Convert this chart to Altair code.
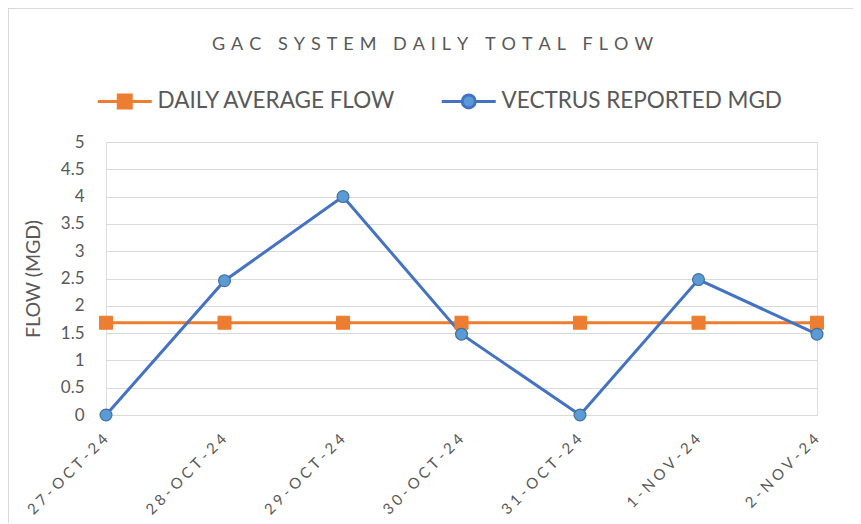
import altair as alt
import pandas as pd

# ---- data ----
dates = ["27-OCT-24", "28-OCT-24", "29-OCT-24", "30-OCT-24", "31-OCT-24", "1-NOV-24", "2-NOV-24"]
daily_average_flow = [1.69, 1.69, 1.69, 1.69, 1.69, 1.69, 1.69]
vectrus_reported = [0.0, 2.46, 4.0, 1.48, 0.0, 2.48, 1.48]
series_names = ["DAILY AVERAGE FLOW", "VECTRUS REPORTED MGD"]
y_ticks = [0, 0.5, 1, 1.5, 2, 2.5, 3, 3.5, 4, 4.5, 5]

rows = []
for i, (d, v) in enumerate(zip(dates, daily_average_flow)):
    rows.append({"date": d, "idx": i, "series": series_names[0], "flow": v})
for i, (d, v) in enumerate(zip(dates, vectrus_reported)):
    rows.append({"date": d, "idx": i, "series": series_names[1], "flow": v})
df = pd.DataFrame(rows)

FONT = "Lato"
TXT = "#595959"
GRID = "#D9D9D9"
ORANGE = "#ED7D31"
BLUE_LINE = "#4472C4"
BLUE_FILL = "#5B9BD5"
BLUE_EDGE = "#41719C"

title_text = "\u2004".join("GAC SYSTEM DAILY TOTAL FLOW")

x_enc = alt.X(
    "date:N",
    sort=dates,
    scale=alt.Scale(type="point", padding=0),
    axis=alt.Axis(
        title=None,
        labelAngle=-45,
        labelExpr="join(split(datum.label, ''), '\u2005')",
        labelFont=FONT,
        labelFontSize=15,
        labelColor=TXT,
        labelPadding=16,
        labelOffset=-6,
        ticks=False,
        domain=True,
        domainColor=GRID,
        domainWidth=1,
        grid=False,
    ),
)
y_enc = alt.Y(
    "flow:Q",
    scale=alt.Scale(domain=[0, 5], nice=False, zero=True),
    axis=alt.Axis(
        title="FLOW (MGD)",
        values=y_ticks,
        format="~g",
        labelFont=FONT,
        labelFontSize=17,
        labelColor=TXT,
        labelPadding=22,
        titleFont=FONT,
        titleFontSize=19.5,
        titleFontWeight="normal",
        titleColor=TXT,
        titleX=-73,
        titleY=136.5,
        titleBaseline="middle",
        ticks=False,
        domain=False,
        grid=True,
        gridColor=GRID,
        gridWidth=1,
    ),
)

stroke_scale = alt.Scale(domain=series_names, range=[ORANGE, BLUE_LINE])
fill_scale = alt.Scale(domain=series_names, range=[ORANGE, BLUE_FILL])
shape_scale = alt.Scale(
    domain=series_names,
    range=[
        "M-4.15,0H-1M1,0H4.15M-1,-1H1V1H-1Z",
        "M-4.15,0H-1M1,0H4.15M1,0A1,1 0 1,1 -1,0A1,1 0 1,1 1,0Z",
    ],
)

base = alt.Chart(df)
avg_data = base.transform_filter(alt.datum.series == series_names[0])
vec_data = base.transform_filter(alt.datum.series == series_names[1])

avg_line = avg_data.mark_line(strokeWidth=3, color=ORANGE).encode(
    x=x_enc, y=y_enc, order=alt.Order("idx:Q")
)
vec_line = vec_data.mark_line(strokeWidth=3, color=BLUE_LINE).encode(
    x=x_enc, y=y_enc, order=alt.Order("idx:Q")
)
squares = avg_data.mark_point(
    shape="square", filled=True, size=170, strokeWidth=1, opacity=1,
    fill=ORANGE, stroke=ORANGE,
).encode(x=x_enc, y=y_enc)
circles = vec_data.mark_point(
    shape="circle", filled=True, size=140, strokeWidth=1.2, opacity=1,
    fill=BLUE_FILL, stroke=BLUE_EDGE,
).encode(x=x_enc, y=y_enc)

legend_cfg = alt.Legend(
    title=None,
    orient="none",
    legendX=7.5,
    legendY=-52,
    direction="horizontal",
    labelFont=FONT,
    labelFontSize=22.5,
    labelColor=TXT,
    labelLimit=500,
    labelOffset=21.5,
    columnPadding=39,
    symbolSize=169,
    symbolStrokeWidth=3,
    symbolOpacity=1,
    padding=0,
)

legend_layer = base.mark_point(opacity=0, filled=True).encode(
    x=x_enc, y=y_enc,
    shape=alt.Shape("series:N", scale=shape_scale, legend=legend_cfg),
    fill=alt.Fill("series:N", scale=fill_scale, legend=legend_cfg),
    stroke=alt.Stroke("series:N", scale=stroke_scale, legend=legend_cfg),
)

frame_df = pd.DataFrame({"k": [0]})
left_border = alt.Chart(frame_df).mark_rule(color=GRID, strokeWidth=1).encode(
    x=alt.value(-97.5), y=alt.value(-134), y2=alt.value(390)
)
top_border = alt.Chart(frame_df).mark_rule(color=GRID, strokeWidth=1).encode(
    x=alt.value(-98), x2=alt.value(760), y=alt.value(-133.5)
)

chart = alt.layer(
    left_border, top_border, avg_line, vec_line, legend_layer, squares, circles
).properties(
    width=711,
    height=273,
    title=alt.TitleParams(
        text=title_text,
        font=FONT,
        fontSize=18,
        fontWeight="normal",
        color=TXT,
        anchor="middle",
        frame="group",
        baseline="alphabetic",
        dx=-29,
        dy=60.5,
        offset=0,
    ),
    autosize=alt.AutoSizeParams(type="none"),
    padding={"left": 98, "top": 134, "right": 36, "bottom": 108},
).configure_view(stroke=None).configure(background="white")

chart.save("out.html", embed_options={"renderer": "svg", "actions": False})
